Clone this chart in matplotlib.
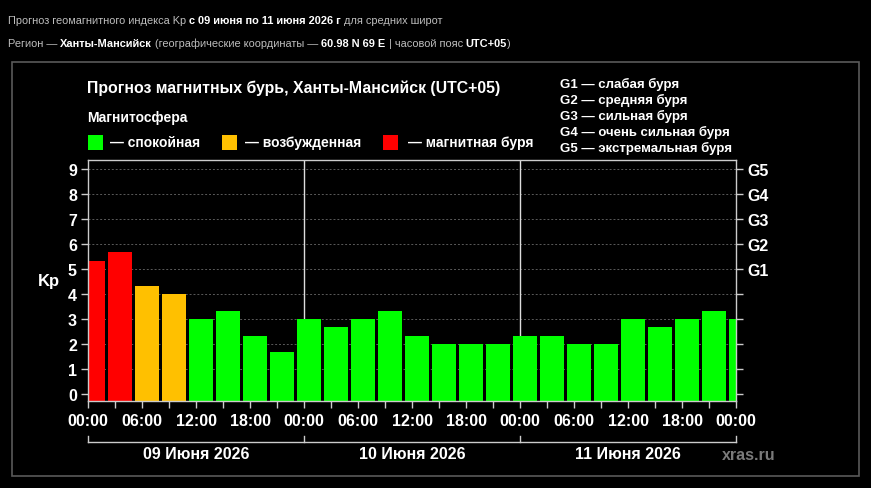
import matplotlib
matplotlib.use("Agg")
import matplotlib.pyplot as plt
from matplotlib.patches import Rectangle
from matplotlib.lines import Line2D

# ---- data ----
kp_values = [5.33, 5.67, 4.33, 4.0, 3.0, 3.33, 2.33, 1.67,
             3.0, 2.67, 3.0, 3.33, 2.33, 2.0, 2.0, 2.0,
             2.33, 2.33, 2.0, 2.0, 3.0, 2.67, 3.0, 3.33, 3.0]
bar_hours = [3 * i for i in range(len(kp_values))]
tick_labels = ["00:00", "06:00", "12:00", "18:00"] * 3 + ["00:00"]
day_labels = ["09 Июня 2026", "10 Июня 2026", "11 Июня 2026"]
g_labels = ["G1", "G2", "G3", "G4", "G5"]
g_levels = [5, 6, 7, 8, 9]
g_desc = ["G1 — слабая буря", "G2 — средняя буря", "G3 — сильная буря",
          "G4 — очень сильная буря", "G5 — экстремальная буря"]
legend_labels = ["— спокойная", "— возбужденная", "— магнитная буря"]

GREEN, ORANGE, RED = "#00ff00", "#ffc000", "#ff0000"
def color_for(v):
    if v >= 5:
        return RED
    if v >= 4:
        return ORANGE
    return GREEN

plt.rcParams['font.family'] = ['Liberation Sans', 'DejaVu Sans']

W, H = 871, 489
fig = plt.figure(figsize=(W / 100, H / 100), dpi=100, facecolor="black")

def fx(px):
    return px / W
def fy(py):
    return 1 - py / H

# outer frame
fig.add_artist(Rectangle((fx(12), fy(477)), fx(859) - fx(12), fy(63) - fy(477),
                         transform=fig.transFigure, fill=False,
                         edgecolor="#5a5a5a", linewidth=1.2))

ax_l, ax_r, ax_t, ax_b = 88, 736, 161, 402
ax = fig.add_axes([fx(ax_l), fy(ax_b), fx(ax_r) - fx(ax_l), fy(ax_t) - fy(ax_b)])
ax.set_facecolor("black")

Y0, Y1 = -0.28, 9.36
ax.set_xlim(0, 72)
ax.set_ylim(Y0, Y1)

# grid
for y in range(1, 10):
    ax.axhline(y, color="#5a5a5a", linewidth=0.7, linestyle=(0, (2, 2)), zorder=1)
for d in (24, 48):
    ax.axvline(d, color="#dddddd", linewidth=1.0, zorder=1)

colors = [color_for(v) for v in kp_values]
ax.bar([h + 0.55 for h in bar_hours], [v - Y0 for v in kp_values], width=2.67,
       bottom=Y0, color=colors, edgecolor="none", zorder=2, align="center")

for s in ax.spines.values():
    s.set_color("#cccccc")
    s.set_linewidth(1.0)
    s.set_zorder(3)

ax.set_yticks(range(10))
ax.set_yticklabels([str(i) for i in range(10)], color="white",
                   fontsize=11.5, fontweight="bold")
ax.set_xticks(range(0, 73, 6))
ax.set_xticklabels(tick_labels, color="white", fontsize=11.5, fontweight="bold")
ax.set_xticks(range(0, 73, 3), minor=True)
ax.tick_params(axis="x", which="both", colors="#cccccc", length=5, width=1,
               labelcolor="white", pad=4)
ax.tick_params(axis="y", colors="#cccccc", length=5, width=1, labelcolor="white", pad=3)

ax.set_ylabel("Kp", color="white", fontsize=12, fontweight="bold", rotation=0,
              labelpad=14, va="center")

ax2 = ax.twinx()
ax2.set_ylim(ax.get_ylim())
ax2.set_yticks(g_levels)
ax2.set_yticklabels(g_labels, color="white", fontsize=11.5, fontweight="bold")
ax2.set_yticks(range(10), minor=True)
ax2.tick_params(axis="y", which="both", colors="#cccccc", length=5, width=1,
                labelcolor="white", pad=3)
for s in ax2.spines.values():
    s.set_visible(False)

# day brackets
trans = ax.get_xaxis_transform()
yb = (ax_b - 443) / (ax_b - ax_t)
yt = (ax_b - 437) / (ax_b - ax_t)
ax.add_line(Line2D([0, 72], [yb, yb], transform=trans, color="#cccccc",
                   linewidth=1.0, clip_on=False))
for d in (0, 24, 48, 72):
    ax.add_line(Line2D([d, d], [yb, yt], transform=trans, color="#cccccc",
                       linewidth=1.0, clip_on=False))
yl = (ax_b - 455) / (ax_b - ax_t)
for i, lab in enumerate(day_labels):
    ax.text(24 * i + 12, yl, lab, transform=trans, color="white", fontsize=11.5,
            fontweight="bold", ha="center", va="center", clip_on=False)

fig.text(fx(722), fy(456), "xras.ru", color="#7a7a7a", fontsize=11.5,
         fontweight="bold", ha="left", va="center")

# titles in chart frame
fig.text(fx(87), fy(88), "Прогноз магнитных бурь, Ханты-Мансийск (UTC+05)",
         color="white", fontsize=11.4, fontweight="bold", ha="left", va="center")
fig.text(fx(87), fy(118), "Магнитосфера", color="white", fontsize=10,
         fontweight="bold", ha="left", va="center")

sq_x = [88, 222, 383]
txt_x = [110, 245, 408]
for c, sx, tx, lab in zip([GREEN, ORANGE, RED], sq_x, txt_x, legend_labels):
    fig.add_artist(Rectangle((fx(sx), fy(151)), fx(15), 15 / H,
                             transform=fig.transFigure, facecolor=c,
                             edgecolor="none"))
    fig.text(fx(tx), fy(143), lab, color="white", fontsize=10, fontweight="bold",
             ha="left", va="center")

for i, g in enumerate(g_desc):
    fig.text(fx(560), fy(84 + 16 * i), g, color="white", fontsize=9.5,
             fontweight="bold", ha="left", va="center")

# header lines with mixed weights
renderer = fig.canvas.get_renderer()
def rich_line(x_px, y_px, parts, size=7.9):
    x = x_px
    for txt, bold in parts:
        t = fig.text(fx(x), fy(y_px), txt, color="white" if bold else "#bdbdbd",
                     fontsize=size, fontweight="bold" if bold else "normal",
                     ha="left", va="center")
        bb = t.get_window_extent(renderer=renderer)
        x += bb.width

rich_line(8, 21, [("Прогноз геомагнитного индекса Kp ", False),
                  ("с 09 июня по 11 июня 2026 г", True),
                  (" для средних широт", False)])
rich_line(8, 44, [("Регион — ", False), ("Ханты-Мансийск", True),
                  (" (географические координаты — ", False),
                  ("60.98 N 69 E", True), (" | часовой пояс ", False),
                  ("UTC+05", True), (")", False)])

fig.savefig("out.png", dpi=100, facecolor="black")
